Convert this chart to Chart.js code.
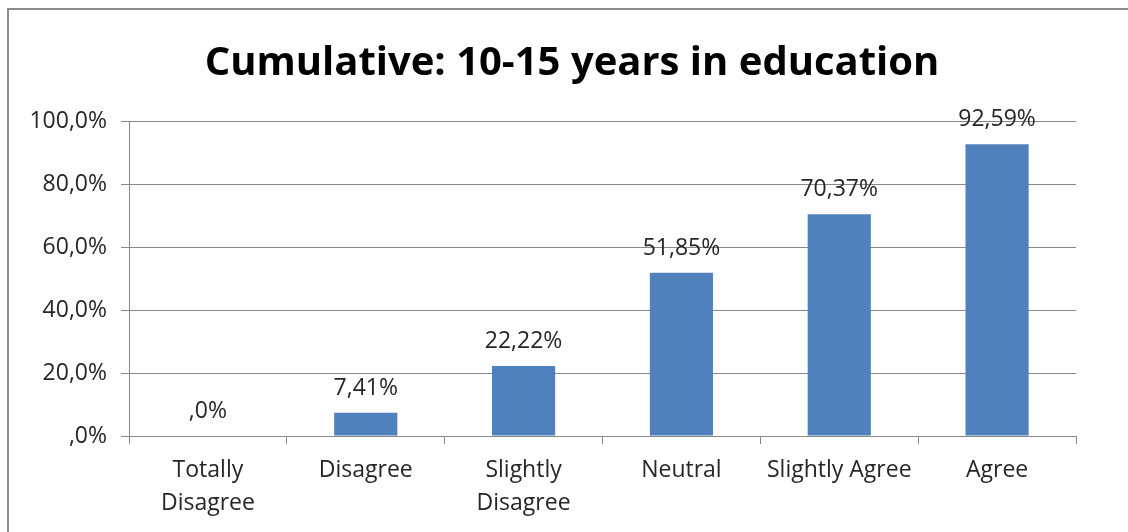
<!DOCTYPE html>
<html>
<head>
<meta charset="utf-8">
<script src="https://cdn.jsdelivr.net/npm/chart.js@4/dist/chart.umd.min.js"></script>
<style>
  html, body { margin: 0; padding: 0; background: #fff; overflow: hidden; }
  #wrap { position: absolute; left: 0; top: 0; width: 1128px; height: 532px; }
</style>
</head>
<body>
<div id="wrap"><canvas id="c" width="1128" height="532"></canvas></div>
<script>
const titleText = 'Cumulative: 10-15 years in education';
const categories = [['Totally', 'Disagree'], 'Disagree', ['Slightly', 'Disagree'], 'Neutral', 'Slightly Agree', 'Agree'];
const values = [0, 7.41, 22.22, 51.85, 70.37, 92.59];
const valueLabels = [',0%', '7,41%', '22,22%', '51,85%', '70,37%', '92,59%'];
const yTickValues = [0, 20, 40, 60, 80, 100];
const yTickLabels = [',0%', '20,0%', '40,0%', '60,0%', '80,0%', '100,0%'];

const FONT = '"Open Sans", Lato, sans-serif';
const TEXT = '#262626';

const framePlugin = {
  id: 'frame',
  beforeDraw(chart) {
    const ctx = chart.ctx;
    ctx.save();
    ctx.fillStyle = '#fff';
    ctx.fillRect(0, 0, chart.width, chart.height);
    ctx.strokeStyle = '#8a8a8a';
    ctx.lineWidth = 2;
    ctx.strokeRect(8, 9, 1200, 600);
    ctx.restore();
  },
  afterDraw(chart) {
    const ctx = chart.ctx;
    ctx.save();
    ctx.font = 'bold 40px ' + FONT;
    ctx.fillStyle = '#000';
    ctx.textAlign = 'center';
    ctx.textBaseline = 'middle';
    ctx.fillText(titleText, 572, 64);
    ctx.restore();
  }
};

const labelPlugin = {
  id: 'valueLabels',
  afterDatasetsDraw(chart) {
    const ctx = chart.ctx;
    const meta = chart.getDatasetMeta(0);
    ctx.save();
    ctx.font = '23px ' + FONT;
    ctx.fillStyle = TEXT;
    ctx.textAlign = 'center';
    ctx.textBaseline = 'alphabetic';
    meta.data.forEach((bar, i) => {
      ctx.fillText(valueLabels[i], bar.x, bar.y - 18);
    });
    ctx.restore();
  }
};

new Chart(document.getElementById('c'), {
  type: 'bar',
  data: {
    labels: categories,
    datasets: [{
      data: values,
      backgroundColor: '#4F81BD',
      borderWidth: 0,
      categoryPercentage: 1,
      barPercentage: 0.4
    }]
  },
  options: {
    responsive: false,
    animation: false,
    layout: { padding: { left: 0, right: 52, top: 121, bottom: 0 } },
    plugins: {
      legend: { display: false },
      tooltip: { enabled: false },
      title: { display: false }
    },
    scales: {
      x: {
        grid: { display: true, drawOnChartArea: false, drawTicks: true, tickLength: 8, color: '#878787', offset: true },
        border: { display: true, color: '#878787', width: 1 },
        ticks: { color: TEXT, font: { family: FONT, size: 23, lineHeight: 1.43 }, padding: 10, maxRotation: 0, autoSkip: false },
        afterFit(scale) { scale.height = 96; }
      },
      y: {
        min: 0, max: 100,
        grid: { color: '#878787', tickLength: 8, drawTicks: true },
        border: { display: true, color: '#878787', width: 1 },
        ticks: {
          stepSize: 20,
          autoSkip: false,
          color: TEXT,
          font: { family: FONT, size: 23 },
          padding: 14,
          callback: (v) => {
            const k = yTickValues.indexOf(Math.round(v));
            return k >= 0 ? yTickLabels[k] : '';
          }
        },
        afterFit(scale) { scale.width = 129; }
      }
    }
  },
  plugins: [framePlugin, labelPlugin]
});
</script>
</body>
</html>
